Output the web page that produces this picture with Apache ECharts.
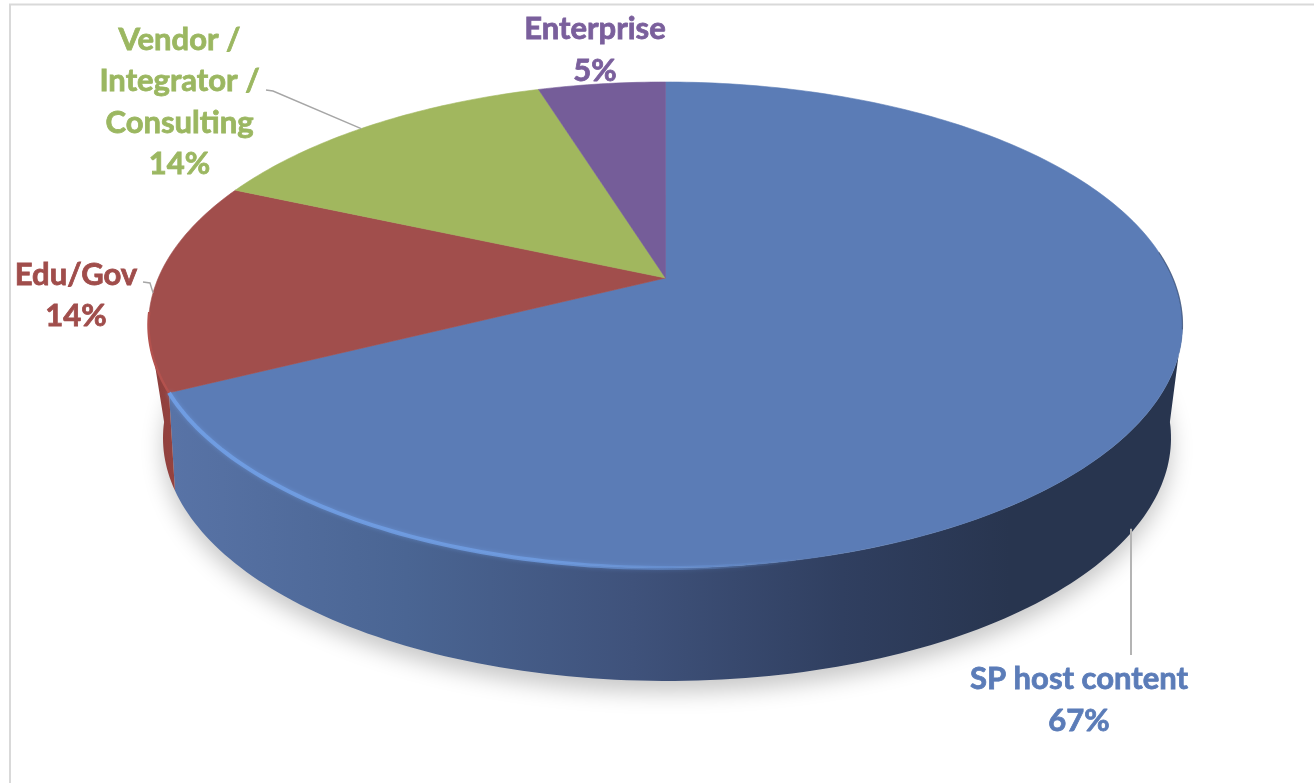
<!DOCTYPE html>
<html>
<head>
<meta charset="utf-8">
<style>
  html, body { margin: 0; padding: 0; background: #fff; }
  #chart { width: 1314px; height: 783px; }
</style>
<script src="https://cdn.jsdelivr.net/npm/echarts@6/dist/echarts.min.js"></script>
</head>
<body>
<div id="chart"></div>
<script>
// Share of content by customer segment
const categories = ['SP host content', 'Edu/Gov', 'Vendor /\nIntegrator /\nConsulting', 'Enterprise'];
const shares = [67, 14, 14, 5];
const topColors = ['#5b7cb6', '#a14e4c', '#a1b75e', '#755d99'];
const labelColors = ['#5b7cb8', '#a04d4b', '#9bb761', '#7a5f9c'];

// Foreshortened discs: ellipse outline, plus the skew that crowds angles toward the far edge
const topDisc = { cx: 665.5, cy: 325, rx: 517, ry: 243, skew: -57 };
const baseDisc = { cx: 667, cy: 438, rx: 504, ry: 243, skew: -72 };
const hub = [665.5, 278];

// Label block centres and the outer ends of their leader lines
const labelCentres = [[1079, 700], [76, 295.5], [179.5, 102], [595, 50]];
const leaderEnds = [[1131, 655], [143, 282], [266, 90], null];
const leaderSkew = -47;

const total = shares.reduce((a, b) => a + b, 0);

function sliceRange(i) {
  let start = 0;
  for (let k = 0; k < i; k++) start += shares[k];
  return [start / total * 360, (start + shares[i]) / total * 360];
}

// Clockwise degrees from twelve o'clock to a point on a foreshortened disc
function project(deg, d, skew) {
  const s = skew === undefined ? d.skew : skew;
  const t = deg * Math.PI / 180;
  const u = Math.sin(t), v = -Math.cos(t);
  const k = s / d.ry;
  const w = 1 + k * v;
  return [d.cx + d.rx * Math.sqrt(1 - k * k) * u / w, d.cy + (d.ry * v + s) / w];
}

function arc(from, to, d) {
  const pts = [];
  const n = Math.max(2, Math.ceil(Math.abs(to - from)));
  for (let i = 0; i <= n; i++) pts.push(project(from + (to - from) * i / n, d));
  return pts;
}

// Angles at which the top disc's outline turns away from the viewer
const tangentRight = Math.acos(topDisc.skew / topDisc.ry) * 180 / Math.PI;
const tangentLeft = 360 - tangentRight;

const G = echarts.graphic;
const blueWall = new G.LinearGradient(172, 0, 1010, 0, [
  { offset: 0, color: '#5873a6' },
  { offset: 0.28, color: '#4a6593' },
  { offset: 0.55, color: '#3f527b' },
  { offset: 0.8, color: '#303f60' },
  { offset: 1, color: '#28354f' }
], true);
const redWall = new G.LinearGradient(150, 0, 182, 0, [
  { offset: 0, color: '#8c3f3d' },
  { offset: 1, color: '#98433f' }
], true);
const blueRim = new G.LinearGradient(172, 0, 800, 0, [
  { offset: 0, color: 'rgba(112,158,228,0.95)' },
  { offset: 0.6, color: 'rgba(112,158,228,0.8)' },
  { offset: 1, color: 'rgba(112,158,228,0)' }
], true);

const sliceData = shares.map((v) => [v]);

function renderWalls(params) {
  const i = params.dataIndex;
  const [a, b] = sliceRange(i);
  const children = [];
  if (i === 0) {
    children.push({
      type: 'polygon', z2: 0,
      shape: { points: arc(0, 360, baseDisc) },
      style: { fill: '#d8d8d8', shadowBlur: 22, shadowColor: 'rgba(0,0,0,0.22)', shadowOffsetY: 11 }
    });
  }
  const from = Math.max(a, tangentRight), to = Math.min(b, tangentLeft);
  if (to > from) {
    const pts = arc(from, to, topDisc).concat(arc(to, from, baseDisc));
    children.push({
      type: 'polygon', z2: 1,
      shape: { points: pts },
      style: { fill: i === 0 ? blueWall : redWall }
    });
  }
  return { type: 'group', children };
}

function renderTops(params) {
  const i = params.dataIndex;
  const [a, b] = sliceRange(i);
  const pts = [hub].concat(arc(a, b, topDisc));
  const children = [{
    type: 'polygon', z2: 2,
    shape: { points: pts },
    style: { fill: topColors[i], stroke: topColors[i], lineWidth: 0.6 }
  }];
  if (i === 0) {
    children.push({
      type: 'polyline', z2: 3,
      shape: { points: arc(241.2, 135, topDisc) },
      style: { fill: null, stroke: blueRim, lineWidth: 4, shadowBlur: 4, shadowColor: 'rgba(112,158,228,0.6)' }
    });
    children.push({
      type: 'polyline', z2: 3,
      shape: { points: arc(86, tangentRight + 1, topDisc) },
      style: { fill: null, stroke: 'rgba(40,55,85,0.5)', lineWidth: 1.2 }
    });
  }
  if (i === 1) {
    children.push({
      type: 'polyline', z2: 3,
      shape: { points: arc(241.2, tangentLeft + 3, topDisc) },
      style: { fill: null, stroke: '#b3524e', lineWidth: 2.5 }
    });
  }
  return { type: 'group', children };
}

function renderLabels(params) {
  const i = params.dataIndex;
  const [a, b] = sliceRange(i);
  const c = labelCentres[i];
  const children = [];
  const end = leaderEnds[i];
  if (end) {
    let points;
    if (i === 0) {
      // Straight drop from the base outline to the label
      const dx = (end[0] - baseDisc.cx) / baseDisc.rx;
      points = [[end[0], baseDisc.cy + baseDisc.ry * Math.sqrt(1 - dx * dx) - 4], end];
    } else {
      const rim = project((a + b) / 2, topDisc, leaderSkew);
      points = [rim, [end[0] + 7, end[1] + 1], end];
    }
    children.push({
      type: 'polyline', z2: 4,
      shape: { points },
      style: { fill: null, stroke: i === 0 ? '#b4b4b4' : '#a6a6a6', lineWidth: i === 0 ? 2 : 1.4 }
    });
  }
  children.push({
    type: 'text', z2: 5,
    style: {
      text: categories[i] + '\n' + shares[i] + '%',
      x: c[0], y: c[1], align: 'center', verticalAlign: 'middle',
      font: 'bold 31px Lato', lineHeight: 41.5, fill: labelColors[i],
      stroke: labelColors[i], lineWidth: 0.8
    }
  });
  return { type: 'group', children };
}

const chart = echarts.init(document.getElementById('chart'), null, { renderer: 'canvas' });
const customBase = { type: 'custom', coordinateSystem: 'none', data: sliceData, silent: true, animation: false };
chart.setOption({
  backgroundColor: '#ffffff',
  animation: false,
  graphic: [{
    type: 'polyline', silent: true, z: -1,
    shape: { points: [[10, 783], [10, 4.5], [1314, 4.5]] },
    style: { fill: null, stroke: '#d9d9d9', lineWidth: 2 }
  }],
  series: [
    Object.assign({ name: 'walls', renderItem: renderWalls, z: 1 }, customBase),
    Object.assign({ name: 'slices', renderItem: renderTops, z: 2 }, customBase),
    Object.assign({ name: 'labels', renderItem: renderLabels, z: 3 }, customBase)
  ]
});
</script>
</body>
</html>
